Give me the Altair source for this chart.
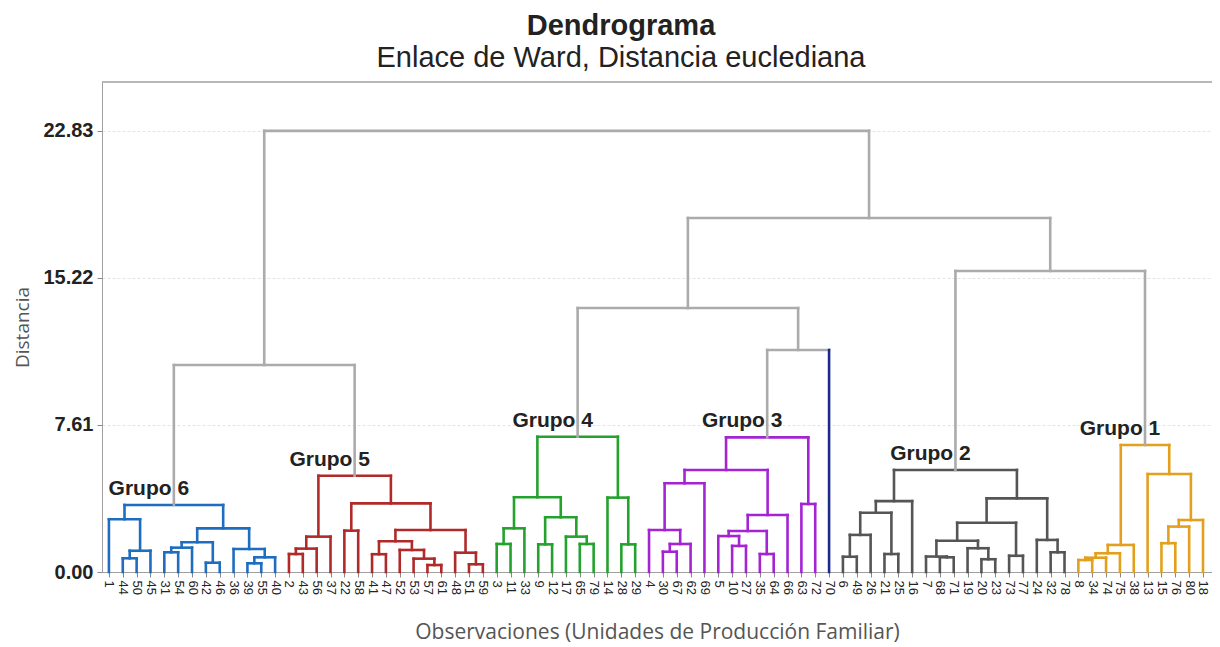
import altair as alt
import pandas as pd

# ---------------- data ----------------
# leaves in dendrogram order, per group
grupo6_leaves = [1, 44, 50, 45, 31, 54, 60, 42, 46, 36, 39, 55, 40]
grupo5_leaves = [2, 43, 56, 37, 22, 58, 41, 47, 52, 53, 57, 61, 48, 51, 59]
grupo4_leaves = [3, 11, 33, 9, 12, 17, 65, 79, 14, 28, 29]
grupo3_leaves = [4, 30, 67, 62, 69, 5, 10, 27, 35, 64, 66, 63, 72]
single_leaves = [70]
grupo2_leaves = [6, 49, 26, 21, 25, 16, 7, 68, 71, 19, 20, 23, 73, 77, 24, 32, 78]
grupo1_leaves = [8, 34, 74, 75, 38, 13, 15, 76, 80, 18]

# merges: (node name, left child, right child, height); ints are leaves
grupo6_merges = [
    ("a1", 44, 50, 0.71), ("a2", "a1", 45, 1.10), ("a3", 1, "a2", 2.73),
    ("a4", 31, 54, 1.02), ("a5", "a4", 60, 1.26), ("a6", 42, 46, 0.48),
    ("a7", "a5", "a6", 1.54), ("a8", 39, 55, 0.45), ("a9", "a8", 40, 0.76),
    ("a10", 36, "a9", 1.19), ("a11", "a7", "a10", 2.26), ("G6", "a3", "a11", 3.47),
]
grupo5_merges = [
    ("b1", 2, 43, 0.93), ("b2", "b1", 56, 1.21), ("b3", "b2", 37, 1.83),
    ("b4", 22, 58, 2.14), ("b5", 41, 47, 0.92), ("b6", 57, 61, 0.36),
    ("b7", 53, "b6", 0.69), ("b8", 52, "b7", 1.14), ("b9", "b5", "b8", 1.59),
    ("b10", 51, 59, 0.40), ("b11", 48, "b10", 1.00), ("b12", "b9", "b11", 2.17),
    ("b13", "b4", "b12", 3.55), ("G5", "b3", "b13", 4.98),
]
grupo4_merges = [
    ("c1", 3, 11, 1.45), ("c2", "c1", 33, 2.26), ("c3", 9, 12, 1.43),
    ("c4", 65, 79, 1.45), ("c5", 17, "c4", 1.83), ("c6", "c3", "c5", 2.83),
    ("c7", "c2", "c6", 3.87), ("c8", 28, 29, 1.43), ("c9", 14, "c8", 3.85),
    ("G4", "c7", "c9", 7.00),
]
grupo3_merges = [
    ("d1", 30, 67, 1.05), ("d2", "d1", 62, 1.45), ("d3", 4, "d2", 2.17),
    ("d4", "d3", 69, 4.59), ("d5", 10, 27, 1.35), ("d6", 5, "d5", 1.86),
    ("d7", 35, 64, 0.93), ("d8", "d6", "d7", 2.12), ("d9", "d8", 66, 2.95),
    ("d10", "d4", "d9", 5.28), ("d11", 63, 72, 3.52), ("G3", "d10", "d11", 6.97),
]
grupo2_merges = [
    ("e1", 6, 49, 0.79), ("e2", "e1", 26, 1.92), ("e3", 21, 25, 0.93),
    ("e4", "e2", "e3", 3.07), ("e5", "e4", 16, 3.67), ("e6", 68, 71, 0.76),
    ("e7", 7, "e6", 0.80), ("e8", 20, 23, 0.66), ("e9", 19, "e8", 1.23),
    ("e10", "e7", "e9", 1.62), ("e11", 73, 77, 0.84), ("e12", "e10", "e11", 2.55),
    ("e13", 32, 78, 1.02), ("e14", 24, "e13", 1.66), ("e15", "e12", "e14", 3.81),
    ("G2", "e5", "e15", 5.28),
]
grupo1_merges = [
    ("f1", 8, 34, 0.62), ("f2", "f1", 74, 0.74), ("f3", "f2", 75, 0.97),
    ("f4", "f3", 38, 1.40), ("f5", 15, 76, 1.49), ("f6", "f5", 80, 2.35),
    ("f7", "f6", 18, 2.69), ("f8", 13, "f7", 5.07), ("G1", "f4", "f8", 6.57),
]
upper_merges = [
    ("u1", "G6", "G5", 10.71), ("u2", "G3", 70, 11.49), ("u3", "G4", "u2", 13.66),
    ("u4", "G2", "G1", 15.58), ("u5", "u3", "u4", 18.32), ("u6", "u1", "u5", 22.83),
]

group_names = ["Grupo 6", "Grupo 5", "Grupo 4", "Grupo 3", "Solo", "Grupo 2", "Grupo 1", "Superior"]
group_colors = ["#1f6dbf", "#b02a2a", "#25a12e", "#a424d4", "#1b2a8a", "#555555", "#e3a01e", "#ababab"]
label_groups = ["Grupo 6", "Grupo 5", "Grupo 4", "Grupo 3", "Grupo 2", "Grupo 1"]
label_nodes = ["G6", "G5", "G4", "G3", "G2", "G1"]
y_ticks = [0.00, 7.61, 15.22, 22.83]

# ---------------- build tables ----------------
leaf_lists = [grupo6_leaves, grupo5_leaves, grupo4_leaves, grupo3_leaves,
              single_leaves, grupo2_leaves, grupo1_leaves]
merge_lists = [grupo6_merges, grupo5_merges, grupo4_merges, grupo3_merges,
               [], grupo2_merges, grupo1_merges, upper_merges]
color_of = dict(zip(group_names, group_colors))

leaves = [l for lst in leaf_lists for l in lst]
leaf_group = {}
for g, lst in zip(group_names, leaf_lists):
    for l in lst:
        leaf_group[l] = g

pos = {l: i for i, l in enumerate(leaves)}
hgt = {l: 0.0 for l in leaves}
rows = []
for g, mlist in zip(group_names, merge_lists):
    for name, a, b, h in mlist:
        pos[name] = (pos[a] + pos[b]) / 2
        hgt[name] = h
        c = color_of[g]
        rows.append(dict(x=pos[a], x2=pos[b], y=h, y2=h, color=c))
        for k in (a, b):
            kc = color_of[leaf_group[k]] if isinstance(k, int) else c
            rows.append(dict(x=pos[k], x2=pos[k], y=hgt[k], y2=h, color=kc))
segments = pd.DataFrame(rows)

labels_df = pd.DataFrame({
    "label": label_groups,
    "x": [pos[n] for n in label_nodes],
    "y": [hgt[n] for n in label_nodes],
})

n = len(leaves)
label_expr = "[" + ",".join("'%d'" % l for l in leaves) + "][round(datum.value)]"

xscale = alt.Scale(domain=[-0.5, n - 1 + 0.65], nice=False, zero=False)
yscale = alt.Scale(domain=[0, 25.36], nice=False)

x_axis = alt.Axis(
    values=list(range(n)), labelExpr=label_expr, labelAngle=90,
    labelFontSize=13, labelColor="#222222", labelFont="Liberation Sans",
    labelPadding=3, tickSize=5, tickColor="#888888", domainColor="#a0a0a0",
    grid=False, labelOverlap=False, labelFlush=False, labelBound=False,
    title="Observaciones (Unidades de Producción Familiar)",
    titleFont="Open Sans", titleFontSize=21, titleFontWeight="normal",
    titleColor="#555555", titlePadding=27,
)
y_axis = alt.Axis(
    values=y_ticks, format=".2f", labelFontSize=20, labelFontWeight="bold",
    labelColor="#222222", labelFont="Liberation Sans", labelPadding=4,
    tickSize=5, tickColor="#888888", domainColor="#a0a0a0",
    grid=True, gridColor="#e4e4e4", gridDash=[3, 2],
    title="Distancia", titleFont="Open Sans", titleFontSize=19,
    titleFontWeight="normal", titleColor="#555555", titlePadding=10,
)

lines = alt.Chart(segments).mark_rule(strokeWidth=2.6, strokeCap="square").encode(
    x=alt.X("x:Q", scale=xscale, axis=x_axis),
    x2="x2:Q",
    y=alt.Y("y:Q", scale=yscale, axis=y_axis),
    y2="y2:Q",
    color=alt.Color("color:N", scale=None),
)

top_border = alt.Chart(pd.DataFrame({"a": [0]})).mark_rule(
    color="#a0a0a0", strokeWidth=1.5
).encode(y=alt.value(0))

texts = alt.Chart(labels_df).mark_text(
    font="Liberation Sans", fontSize=21, fontWeight="bold", color="#222222",
    dx=-25, dy=-16, baseline="middle", align="center",
).encode(
    x=alt.X("x:Q", scale=xscale, axis=x_axis),
    y=alt.Y("y:Q", scale=yscale, axis=y_axis),
    text="label:N",
)

chart = alt.layer(lines, top_border, texts).properties(
    width=1110,
    height=490,
    autosize=alt.AutoSizeParams(type="none"),
    padding={"left": 94, "top": 74, "right": 0, "bottom": 75},
    title=alt.TitleParams(
        text="Dendrograma",
        subtitle="Enlace de Ward, Distancia euclediana",
        font="Liberation Sans", fontSize=29, fontWeight="bold", color="#222222",
        subtitleFont="Liberation Sans", subtitleFontSize=29, subtitleColor="#222222",
        subtitlePadding=3, anchor="middle", dx=-36, offset=8,
    ),
).configure_view(stroke=None)

chart.save("out.html", embed_options={"renderer": "svg", "actions": False})
